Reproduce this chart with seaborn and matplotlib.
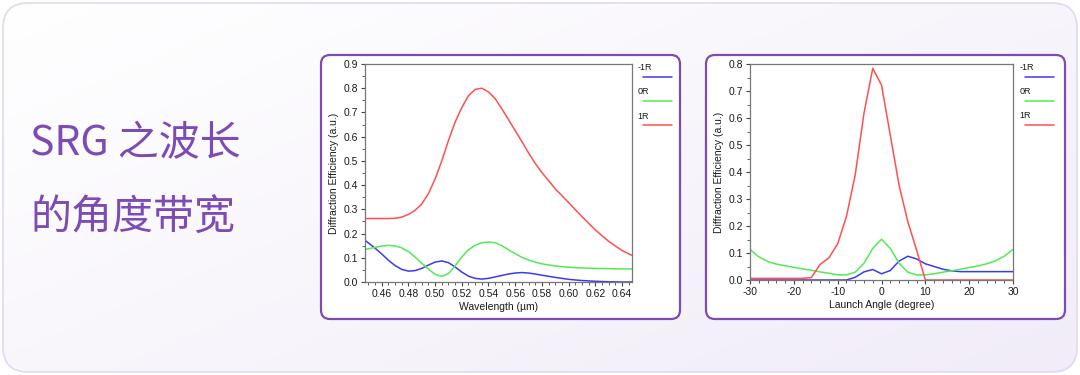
import numpy as np
import pandas as pd
import matplotlib
matplotlib.use('Agg')
import matplotlib.pyplot as plt
import seaborn as sns
from matplotlib.patches import FancyBboxPatch
from matplotlib.ticker import MultipleLocator

# left chart: efficiency vs wavelength (um)
wl = [0.4475, 0.455, 0.46, 0.465, 0.47, 0.475, 0.48, 0.485, 0.49, 0.495, 0.50, 0.505,
      0.51, 0.515, 0.52, 0.525, 0.53, 0.535, 0.54, 0.545, 0.55, 0.555, 0.56, 0.565,
      0.57, 0.575, 0.58, 0.59, 0.60, 0.61, 0.62, 0.63, 0.64, 0.6475]
wl_m1R = [0.172, 0.140, 0.116, 0.090, 0.068, 0.052, 0.045, 0.047, 0.056, 0.070, 0.082, 0.087,
          0.080, 0.062, 0.041, 0.024, 0.015, 0.012, 0.015, 0.021, 0.027, 0.033, 0.037, 0.039,
          0.037, 0.033, 0.028, 0.019, 0.011, 0.006, 0.003, 0.001, 0.0, 0.0]
wl_0R = [0.134, 0.143, 0.148, 0.151, 0.149, 0.141, 0.126, 0.103, 0.078, 0.053, 0.032, 0.023,
         0.035, 0.066, 0.103, 0.133, 0.152, 0.162, 0.165, 0.162, 0.150, 0.133, 0.117, 0.102,
         0.091, 0.082, 0.075, 0.066, 0.061, 0.058, 0.056, 0.055, 0.054, 0.054]
wl_1R = [0.262, 0.262, 0.262, 0.262, 0.263, 0.268, 0.279, 0.296, 0.322, 0.365, 0.425, 0.500,
         0.584, 0.660, 0.720, 0.769, 0.795, 0.800, 0.785, 0.757, 0.715, 0.670, 0.625, 0.580,
         0.533, 0.490, 0.452, 0.385, 0.328, 0.270, 0.215, 0.168, 0.130, 0.110]

# right chart: efficiency vs launch angle (degree)
ang = list(range(-30, 31, 2))
ang_m1R = [0.0, 0.0, 0.0, 0.0, 0.0, 0.0, 0.0, 0.0, 0.0, 0.0, 0.0, 0.0, 0.010, 0.030, 0.039, 0.023,
           0.035, 0.070, 0.088, 0.078, 0.060, 0.050, 0.040, 0.034, 0.031, 0.031, 0.031, 0.031,
           0.031, 0.031, 0.031]
ang_0R = [0.113, 0.086, 0.069, 0.059, 0.053, 0.047, 0.041, 0.036, 0.030, 0.025, 0.019, 0.019,
          0.029, 0.062, 0.117, 0.151, 0.117, 0.062, 0.029, 0.019, 0.019, 0.023, 0.029, 0.034,
          0.040, 0.046, 0.052, 0.060, 0.071, 0.088, 0.113]
ang_1R = [0.006, 0.006, 0.006, 0.006, 0.006, 0.006, 0.006, 0.009, 0.058, 0.082, 0.134, 0.235,
          0.389, 0.617, 0.784, 0.722, 0.537, 0.352, 0.216, 0.111, 0.0, 0.0, 0.0, 0.0, 0.0, 0.0,
          0.0, 0.0, 0.0, 0.0, 0.0]

orders = ['-1R', '0R', '1R']
colors = {'-1R': '#3b3bee', '0R': '#52ea52', '1R': '#ff4f4f'}

title_lines = ['SRG 之波长', '的角度带宽']
purple = '#7c4bb3'


def long_df(x, series):
    rows = []
    for name, vals in zip(orders, series):
        for xv, yv in zip(x, vals):
            rows.append({'x': xv, 'eff': yv, 'order': name})
    return pd.DataFrame(rows)


sns.set_style('ticks')
plt.rcParams['font.family'] = ['Liberation Sans', 'DejaVu Sans']

fig = plt.figure(figsize=(10.8, 3.75), dpi=100)
fig.patch.set_facecolor('white')

# background card with soft gradient
bg = fig.add_axes([0, 0, 1, 1], zorder=-10)
bg.set_axis_off()
gx, gy = np.meshgrid(np.linspace(0, 1, 200), np.linspace(0, 1, 80))
grad = 0.55 * gx + 0.45 * gy
cmap = matplotlib.colors.LinearSegmentedColormap.from_list('bgc', ['#ffffff', '#f1ecf8'])
im = bg.imshow(grad, cmap=cmap, extent=[0, 10.8, 0, 3.75], origin='upper', aspect='auto')
bg.set_xlim(0, 10.8)
bg.set_ylim(0, 3.75)
card = FancyBboxPatch((0.03, 0.03), 10.74, 3.69, boxstyle='round,pad=0,rounding_size=0.25',
                      fc='none', ec='#e2d8ef', lw=1.2)
bg.add_patch(card)
im.set_clip_path(card)

# title text
fig.text(30 / 1080, 1 - 144 / 375, title_lines[0], color=purple, fontsize=29.5,
         family=['Noto Sans CJK SC', 'DejaVu Sans'], va='center', ha='left')
fig.text(30 / 1080, 1 - 218 / 375, title_lines[1], color=purple, fontsize=29.5,
         family=['Noto Sans CJK SC', 'DejaVu Sans'], va='center', ha='left')

# white panels with purple border
for px in (3.21, 7.06):
    panel = FancyBboxPatch((px, 0.56), 3.59, 2.64, boxstyle='round,pad=0,rounding_size=0.09',
                           fc='white', ec=purple, lw=1.6)
    bg.add_patch(panel)


def draw(rect, x, series, xlabel, xlim, ylim, xmajor, xminor, xfmt, leg_x):
    ax = fig.add_axes(rect)
    df = long_df(x, series)
    sns.lineplot(data=df, x='x', y='eff', hue='order', hue_order=orders, palette=colors,
                 legend=False, ax=ax, linewidth=1.1, estimator=None, sort=False)
    ax.set_xlim(*xlim)
    ax.set_ylim(*ylim)
    ax.xaxis.set_major_locator(MultipleLocator(xmajor))
    ax.xaxis.set_minor_locator(MultipleLocator(xminor))
    ax.yaxis.set_major_locator(MultipleLocator(0.1))
    ax.yaxis.set_minor_locator(MultipleLocator(0.05))
    ax.xaxis.set_major_formatter(matplotlib.ticker.FormatStrFormatter(xfmt))
    ax.yaxis.set_major_formatter(matplotlib.ticker.FormatStrFormatter('%.1f'))
    ax.tick_params(which='major', direction='out', length=3, width=0.8, labelsize=7.5,
                   colors='#444444', labelcolor='#1a1a1a', pad=2)
    ax.tick_params(which='minor', direction='out', length=2, width=0.6, colors='#444444')
    for sp in ax.spines.values():
        sp.set_color('#777777')
        sp.set_linewidth(0.9)
    ax.set_xlabel(xlabel, fontsize=7.5, color='#1a1a1a', labelpad=2)
    ax.set_ylabel('Diffraction Efficiency (a.u.)', fontsize=7.5, color='#1a1a1a', labelpad=3)
    ax.set_facecolor('white')
    # legend drawn to the right of the plot, label above line
    for i, name in enumerate(orders):
        y0 = 0.985 - i * 0.112
        ax.text(leg_x, y0, name, transform=ax.transAxes, fontsize=6.5, color='#1a1a1a',
                va='center', ha='left', clip_on=False)
        ax.plot([leg_x + 0.02, leg_x + 0.13], [y0 - 0.043, y0 - 0.043], transform=ax.transAxes,
                color=colors[name], lw=1.1, clip_on=False)
    return ax


draw([365 / 1080, 93 / 375, 267 / 1080, 218 / 375], wl, [wl_m1R, wl_0R, wl_1R],
     'Wavelength (µm)', (0.4475, 0.6475), (0, 0.9), 0.02, 0.005, '%.2f', 1.02)
draw([750 / 1080, 95 / 375, 263 / 1080, 216 / 375], ang, [ang_m1R, ang_0R, ang_1R],
     'Launch Angle (degree)', (-30, 30), (0, 0.8), 10, 2, '%d', 1.025)

fig.savefig('out.png', dpi=100)
